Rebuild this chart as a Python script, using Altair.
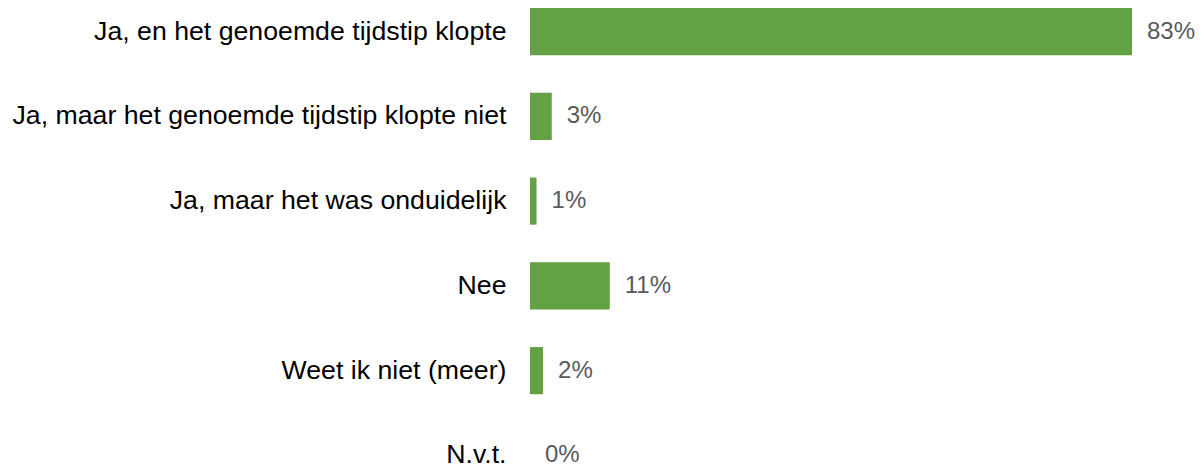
import altair as alt
import pandas as pd

categories = [
    "Ja, en het genoemde tijdstip klopte",
    "Ja, maar het genoemde tijdstip klopte niet",
    "Ja, maar het was onduidelijk",
    "Nee",
    "Weet ik niet (meer)",
    "N.v.t.",
]
values = [83.0, 3.0, 0.9, 11.0, 1.8, 0.0]
value_labels = ["83%", "3%", "1%", "11%", "2%", "0%"]

df = pd.DataFrame({"cat": categories, "val": values, "lab": value_labels})

FONT = "Liberation Sans"

y_enc = alt.Y(
    "cat:N",
    sort=categories,
    title=None,
    scale=alt.Scale(paddingInner=0.444, paddingOuter=0, range=[0, 471]),
    axis=alt.Axis(
        domain=False,
        ticks=False,
        labelPadding=24,
        labelLimit=0,
        labelFontSize=26.7,
        labelFont=FONT,
        labelColor="#000000",
    ),
)
x_enc = alt.X("val:Q", scale=alt.Scale(domain=[0, 83], nice=False), axis=None, title=None)

bars = alt.Chart(df).mark_bar(color="#64a044").encode(x=x_enc, y=y_enc)
text = alt.Chart(df).mark_text(
    align="left", baseline="middle", dx=15, fontSize=24, font=FONT, color="#595959"
).encode(x=x_enc, y=y_enc, text="lab:N")

chart = (
    (bars + text)
    .properties(
        width=602,
        height=457,
        autosize=alt.AutoSizeParams(type="none"),
        padding={"left": 522, "top": 0, "right": 64, "bottom": 0},
    )
    .configure_view(stroke=None)
)

chart.save("out.html", embed_options={"renderer": "svg", "actions": False})
